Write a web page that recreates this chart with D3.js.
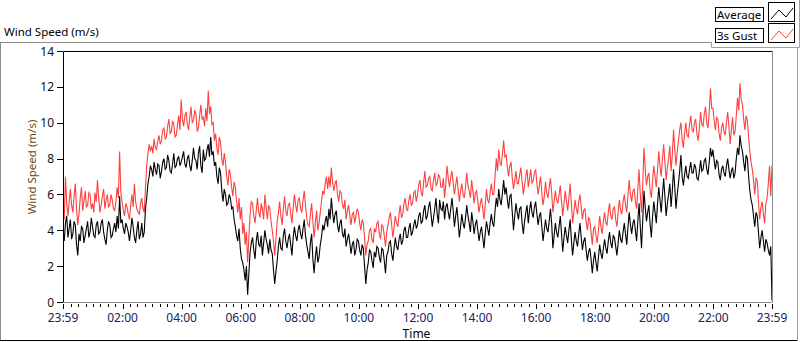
<!DOCTYPE html>
<html>
<head>
<meta charset="utf-8">
<script src="https://cdn.jsdelivr.net/npm/d3@7"></script>
<style>
  body { margin: 0; background: #fff; }
  svg { display: block; font-family: "Noto Sans", sans-serif; }
</style>
</head>
<body>
<script>
// one sample every 2.5 minutes, starting 23:59 of the previous day (24 per row = 1 hour)
var stepMinutes = 2.5

var average = [
  3.9,3.4, 4.4,4.8, 3.6,4.1, 4.6,3.5, 3.8,4.5, 4.3,3.2, 2.6,3.8, 3.4,4.2, 4.1,3.3, 3.7,4.1, 4.5,3.6, 3.9,4.7,
  4.2,3.7, 3.6,4.3, 4.5,3.8, 3.9,4.4, 4.6,3.9, 3.5,3.2, 4.0,4.5, 4.3,3.6, 3.7,4.1, 4.4,3.9, 4.8,4.1, 5.9,4.4,
  4.6,4.1, 3.8,4.4, 4.2,3.9, 3.4,4.0, 4.7,4.2, 3.6,3.3, 4.0,4.5, 3.5,3.8, 4.4,3.6, 3.9,5.2, 5.8,6.6, 7.0,7.6,
  7.4,7.0, 7.8,7.4, 7.1,7.7, 7.6,6.9, 7.3,7.8, 8.0,7.4, 7.5,8.2, 7.9,7.3, 7.2,7.7, 8.3,7.5, 7.6,8.0, 8.1,7.6,
  7.8,8.1, 8.4,7.7, 7.5,8.0, 8.2,7.6, 7.3,7.9, 8.6,8.0, 7.9,7.4, 8.3,8.7, 7.6,7.2, 8.5,7.9, 8.0,8.5, 8.8,8.1,
  9.2,8.2, 8.4,7.6, 7.8,7.0, 6.6,7.5, 7.2,6.2, 5.6,6.3, 6.0,5.4, 5.5,6.0, 5.8,5.2, 5.3,4.6, 4.2,3.7, 3.4,4.1,
  3.0,2.4, 2.2,1.8, 1.2,2.0, 0.4,1.6, 2.8,3.3, 3.6,2.9, 2.4,3.4, 3.9,3.2, 3.1,3.7, 2.6,3.3, 4.0,3.5, 3.2,2.7,
  3.5,2.9, 2.7,1.8, 1.0,1.7, 2.3,3.1, 3.6,3.0, 2.9,3.7, 4.1,3.4, 3.0,3.5, 3.8,3.2, 2.6,3.6, 4.2,3.7, 3.4,4.0,
  4.3,3.8, 3.5,4.1, 4.6,3.7, 3.2,2.8, 2.4,3.3, 3.8,2.4, 1.6,2.5, 3.1,2.2, 2.5,3.2, 3.6,4.3, 4.0,4.5, 4.8,4.2,
  5.2,4.6, 5.8,5.0, 4.4,4.9, 5.1,4.3, 3.9,4.4, 4.6,3.8, 3.6,4.1, 3.1,3.5, 3.8,3.3, 2.7,3.2, 3.4,2.6, 2.9,3.5,
  3.4,2.9, 2.6,3.2, 3.0,2.0, 1.0,1.8, 2.2,2.9, 2.8,2.3, 1.9,2.8, 2.5,3.1, 3.0,2.5, 2.2,3.0, 2.9,2.3, 1.6,2.6,
  2.8,3.3, 3.4,2.7, 2.3,3.0, 3.6,3.1, 2.9,3.5, 3.8,3.2, 3.4,4.0, 4.2,3.6, 3.6,4.1, 4.4,3.7, 3.9,4.3, 4.6,4.1,
  4.3,4.8, 5.0,4.4, 4.5,5.1, 5.4,4.6, 4.8,5.3, 5.6,4.9, 4.2,4.7, 5.2,5.8, 4.9,4.4, 5.7,5.2, 5.1,5.6, 4.6,5.3,
  5.5,5.0, 4.6,5.2, 5.8,5.1, 4.2,4.8, 5.3,4.5, 3.6,4.2, 4.9,4.4, 4.1,4.7, 5.4,4.8, 4.4,3.9, 5.0,4.5, 3.8,4.3,
  4.6,4.0, 3.4,3.9, 4.2,3.6, 3.0,3.8, 4.5,4.1, 3.7,4.4, 4.9,4.4, 4.2,5.1, 5.8,5.3, 6.3,5.7, 5.4,6.1, 6.8,6.0,
  6.4,5.7, 5.2,5.9, 6.0,5.0, 4.0,4.8, 5.5,5.0, 4.6,5.2, 5.3,4.4, 3.8,4.5, 5.0,5.4, 4.4,5.1, 5.6,5.0, 4.7,5.3,
  5.6,4.9, 4.3,4.8, 5.0,4.2, 3.4,4.0, 4.6,4.1, 3.9,4.5, 5.2,4.4, 3.0,3.7, 4.4,3.9, 3.6,4.2, 4.8,3.8, 2.8,3.6,
  4.2,3.7, 3.3,4.0, 4.6,3.5, 2.6,3.3, 3.9,3.4, 3.1,3.8, 4.4,3.6, 2.9,3.4, 3.6,2.9, 2.3,2.8, 3.0,2.4, 1.6,2.3,
  2.8,2.2, 1.7,2.5, 3.2,2.7, 2.4,3.0, 3.5,3.0, 2.7,3.4, 3.9,3.3, 3.0,3.7, 3.6,3.1, 2.6,3.3, 4.0,3.5, 3.3,3.9,
  4.4,3.8, 3.2,4.2, 5.0,4.3, 3.8,4.4, 4.6,4.0, 3.4,4.5, 5.5,4.2, 3.0,4.6, 6.2,5.3, 4.5,5.0, 5.4,4.3, 3.6,4.8,
  5.6,5.0, 4.4,5.5, 6.4,5.7, 5.0,6.0, 6.9,5.9, 4.8,5.5, 6.0,6.6, 5.3,6.2, 7.4,6.4, 5.2,6.0, 6.6,7.3, 8.2,7.0,
  6.5,7.1, 7.6,7.0, 6.9,7.4, 7.8,7.2, 7.2,7.7, 7.5,6.9, 6.8,7.3, 7.9,7.3, 7.4,7.9, 8.0,7.4, 7.1,7.8, 8.6,8.1,
  8.5,7.9, 7.4,7.9, 7.8,7.1, 6.8,7.4, 7.6,7.2, 7.0,7.6, 8.0,7.4, 6.9,7.3, 7.5,6.9, 7.2,8.0, 8.6,8.2, 9.3,8.7,
  8.4,7.8, 7.3,8.2, 8.0,7.0, 6.2,5.7, 5.4,4.8, 4.2,5.0, 4.8,3.9, 3.0,3.6, 4.0,3.4, 2.8,3.5, 3.3,2.9, 2.6,3.1,
  0.1
]

var gust = [
  5.2,4.6, 7.0,5.5, 4.8,5.6, 6.3,5.4, 5.0,5.9, 6.6,5.2, 4.3,4.9, 5.8,6.4, 5.1,5.6, 6.2,5.3, 5.4,6.1, 6.0,5.2,
  5.5,5.0, 6.1,5.6, 6.8,5.8, 5.0,5.4, 5.9,6.3, 5.2,5.7, 6.0,5.3, 5.4,6.0, 5.7,5.2, 5.1,5.6, 6.4,5.8, 8.4,6.1,
  5.6,5.1, 4.8,5.5, 5.3,4.9, 4.6,5.4, 6.0,5.3, 6.6,5.6, 5.2,5.0, 4.9,5.5, 5.8,5.2, 5.0,6.4, 7.6,8.3, 8.8,8.4,
  8.7,8.3, 9.1,8.6, 8.5,9.0, 9.3,8.8, 9.0,9.6, 9.7,9.1, 9.2,9.8, 10.2,9.4, 9.5,10.1, 9.9,9.2, 9.3,9.9, 10.4,9.6,
  11.3,10.2, 9.8,10.4, 10.6,9.9, 9.6,10.3, 10.9,10.0, 10.1,10.7, 10.5,9.5, 9.7,10.4, 11.0,10.2, 10.3,9.8, 10.8,10.1, 11.8,10.5,
  10.9,9.9, 10.0,9.0, 9.4,8.6, 8.2,9.2, 8.9,8.0, 7.6,8.3, 7.8,7.0, 6.5,7.4, 7.1,6.4, 5.9,6.7, 6.4,5.6, 5.0,5.8,
  4.6,5.3, 3.8,4.4, 3.2,3.9, 2.2,3.6, 4.9,5.6, 5.5,4.8, 4.4,5.1, 5.8,5.0, 4.7,5.5, 5.2,4.6, 6.0,5.3, 4.6,5.4,
  5.2,4.5, 4.0,3.4, 2.6,3.5, 4.5,5.0, 5.6,4.8, 4.3,5.2, 5.9,5.1, 4.8,5.4, 5.5,4.9, 4.4,5.3, 6.0,5.4, 5.0,5.7,
  5.8,5.2, 5.0,5.7, 6.2,5.4, 4.7,4.3, 4.2,4.9, 5.5,4.5, 3.6,4.4, 5.1,4.0, 4.4,5.0, 5.6,6.2, 6.0,6.6, 7.0,6.3,
  7.0,6.4, 7.5,6.7, 6.2,6.6, 6.8,6.0, 5.6,6.2, 6.1,5.4, 5.2,5.7, 4.6,5.1, 5.4,4.8, 4.3,4.9, 5.0,4.4, 4.8,5.2,
  5.0,4.4, 4.0,4.6, 4.4,3.6, 2.6,3.2, 3.4,4.0, 4.1,3.5, 3.3,4.1, 3.9,4.4, 4.5,3.8, 3.5,4.3, 4.2,3.7, 3.1,3.9,
  4.3,4.7, 5.0,4.3, 3.6,4.2, 4.8,4.4, 4.2,4.9, 5.4,4.7, 4.9,5.5, 5.8,5.2, 5.1,5.7, 6.0,5.4, 5.5,6.1, 6.2,5.6,
  6.0,6.5, 6.8,6.1, 5.9,6.7, 7.3,6.4, 6.5,6.9, 7.0,6.3, 6.2,6.8, 7.2,6.5, 6.6,7.1, 7.0,6.4, 6.4,6.9, 5.8,6.6,
  7.6,6.9, 6.4,7.0, 7.3,6.6, 6.0,6.5, 7.0,6.3, 5.6,6.2, 6.6,6.0, 5.8,6.4, 7.2,6.5, 6.2,5.8, 6.8,6.2, 5.5,6.1,
  6.2,5.6, 5.0,5.5, 5.8,5.2, 4.6,5.4, 6.3,5.7, 5.5,6.1, 6.6,6.0, 6.0,7.0, 8.0,7.3, 8.5,7.8, 7.6,8.3, 9.0,8.1,
  8.2,7.5, 7.0,7.6, 7.8,6.9, 6.3,6.8, 7.3,6.6, 6.6,7.1, 7.5,6.7, 6.0,6.5, 7.0,7.4, 6.4,6.9, 7.4,6.6, 6.8,7.2,
  7.4,6.6, 6.0,6.5, 7.0,6.1, 5.4,5.9, 6.7,6.1, 5.8,6.4, 6.9,6.1, 5.0,5.6, 6.2,5.7, 5.5,6.0, 6.5,5.6, 4.8,5.5,
  6.2,5.6, 5.1,5.8, 6.6,5.5, 4.4,5.0, 5.7,5.2, 4.9,5.6, 6.0,5.3, 4.6,5.1, 5.2,4.5, 4.0,4.7, 4.6,3.9, 3.2,4.1,
  4.2,3.7, 3.3,4.0, 4.8,4.2, 3.8,4.5, 5.0,4.4, 4.3,5.0, 5.5,4.8, 4.6,5.2, 5.3,4.6, 4.2,5.0, 5.7,5.1, 4.9,5.6,
  6.0,5.4, 5.0,6.0, 6.8,6.0, 5.6,6.2, 6.3,5.6, 5.2,6.3, 7.4,6.0, 5.0,6.6, 8.6,7.4, 6.5,7.0, 7.2,6.2, 5.8,6.8,
  7.6,7.0, 6.4,7.4, 8.4,7.6, 7.0,8.0, 8.8,7.8, 6.8,7.5, 8.0,8.7, 7.3,8.2, 9.6,8.5, 7.6,8.4, 9.0,9.6, 10.0,9.1,
  8.6,9.4, 10.0,9.3, 9.2,9.9, 10.4,9.6, 9.5,10.0, 10.2,9.4, 9.0,9.7, 10.6,9.9, 9.8,10.5, 10.9,10.0, 9.7,10.6, 11.9,10.8,
  10.8,10.1, 9.6,10.3, 10.2,9.4, 9.0,9.7, 10.0,9.5, 9.3,10.0, 10.6,9.8, 8.8,9.6, 10.3,9.3, 9.5,10.4, 11.4,10.7, 12.2,11.3,
  11.0,10.2, 9.6,10.4, 10.1,9.2, 8.4,7.8, 7.4,6.8, 6.0,6.9, 6.8,5.6, 4.6,5.3, 5.6,4.9, 4.4,5.5, 5.8,6.6, 7.6,5.9,
  7.6
]

var yTicks = [0, 2, 4, 6, 8, 10, 12, 14]
var xTickHours = [2, 4, 6, 8, 10, 12, 14, 16, 18, 20, 22]
var seriesNames = ["Average", "3s Gust"]
var seriesColors = ["#000000", "#ff4040"]

var w = 800
var h = 342
var plotLeft = 63, plotRight = 772, plotTop = 51, plotBottom = 302

var t0 = new Date(2000, 0, 1, 23, 59)
var t1 = new Date(2000, 0, 2, 23, 59)

var x = d3.scaleTime().domain([t0, t1]).range([plotLeft, plotRight])
var y = d3.scaleLinear().domain([0, 14]).range([plotBottom, plotTop])

var svg = d3.select("body").append("svg")
  .attr("width", w)
  .attr("height", h)

// outer panel
svg.append("line").attr("x1", 0).attr("y1", 42.5).attr("x2", 711).attr("y2", 42.5).attr("stroke", "#8c8c8c")
svg.append("line").attr("x1", 0.5).attr("y1", 42).attr("x2", 0.5).attr("y2", 341).attr("stroke", "#8c8c8c")
svg.append("line").attr("x1", 0).attr("y1", 340.5).attr("x2", 798).attr("y2", 340.5).attr("stroke", "#000")
svg.append("line").attr("x1", 797.5).attr("y1", 47).attr("x2", 797.5).attr("y2", 341).attr("stroke", "#a0a0a0")

svg.append("text")
  .attr("x", 4).attr("y", 36)
  .attr("font-size", 11.5)
  .attr("fill", "#000")
  .text("Wind Speed (m/s)")

// legend
var lg = svg.append("g")
lg.append("path")
  .attr("d", "M711.5,42 V47.5 H799.5 V0")
  .attr("fill", "none").attr("stroke", "#a0a0a0")
seriesNames.forEach(function (name, i) {
  var ty = 7 + i * 21
  lg.append("rect")
    .attr("x", 715.5).attr("y", ty + 0.5).attr("width", 48).attr("height", 14)
    .attr("fill", "#fff").attr("stroke", "#000")
  lg.append("text")
    .attr("x", 717).attr("y", ty + 11.5)
    .attr("font-size", 11.5)
    .text(name)
  lg.append("rect")
    .attr("x", 768.5).attr("y", ty - 4.5).attr("width", 26).attr("height", 19)
    .attr("fill", "#fff").attr("stroke", "#000")
  lg.append("polyline")
    .attr("points", [[771, ty + 12], [779, ty + 3], [786, ty + 10], [793, ty + 1]].join(" "))
    .attr("fill", "none")
    .attr("stroke", seriesColors[i])
})

// plot frame
svg.append("rect")
  .attr("x", plotLeft).attr("y", plotTop).attr("width", plotRight - plotLeft).attr("height", plotBottom - plotTop)
  .attr("fill", "#fff")

var clip = svg.append("clipPath").attr("id", "plotclip")
clip.append("rect").attr("x", plotLeft).attr("y", plotTop).attr("width", plotRight - plotLeft + 1).attr("height", plotBottom - plotTop + 1)

function timeAt(i) {
  return new Date(t0.getTime() + i * stepMinutes * 60000)
}

var line = d3.line()
  .x(function (d, i) { return x(timeAt(i)) })
  .y(function (d) { return y(d) })

var plot = svg.append("g").attr("clip-path", "url(#plotclip)")
plot.append("path")
  .datum(gust)
  .attr("d", line)
  .attr("fill", "none")
  .attr("stroke", seriesColors[1])
  .attr("stroke-width", 1.1)
plot.append("path")
  .datum(average)
  .attr("d", line)
  .attr("fill", "none")
  .attr("stroke", seriesColors[0])
  .attr("stroke-width", 1.1)

svg.append("path")
  .attr("d", "M" + (plotLeft + 0.5) + "," + (plotBottom + 0.5) + " V" + (plotTop + 0.5) + " H" + (plotRight + 0.5))
  .attr("fill", "none").attr("stroke", "#000")
svg.append("path")
  .attr("d", "M" + (plotRight + 0.5) + "," + (plotTop + 0.5) + " V" + (plotBottom + 0.5) + " H" + (plotLeft + 0.5))
  .attr("fill", "none").attr("stroke", "#8c8c8c")

// y axis
var yAxis = svg.append("g")
yAxis.selectAll("line.ytick")
  .data(yTicks)
  .enter()
  .append("line")
  .attr("x1", plotLeft - 6).attr("x2", plotLeft)
  .attr("y1", function (d) { return Math.round(y(d)) + 0.5 })
  .attr("y2", function (d) { return Math.round(y(d)) + 0.5 })
  .attr("stroke", "#000")
yAxis.selectAll("text")
  .data(yTicks)
  .enter()
  .append("text")
  .attr("x", plotLeft - 9)
  .attr("y", function (d) { return y(d) + 4.5 })
  .attr("text-anchor", "end")
  .attr("font-size", 12)
  .attr("fill", "#101010")
  .text(function (d) { return d })

svg.append("text")
  .attr("transform", "translate(36,167) rotate(-90)")
  .attr("text-anchor", "middle")
  .attr("font-size", 11.5)
  .attr("fill", "#6b4a12")
  .text("Wind Speed (m/s)")

// x axis
var minor = d3.timeMinute.every(15).range(t0, t1)
minor.push(t1)
svg.selectAll("line.minor")
  .data(minor)
  .enter()
  .append("line")
  .attr("x1", function (d) { return Math.round(x(d)) + 0.5 })
  .attr("x2", function (d) { return Math.round(x(d)) + 0.5 })
  .attr("y1", plotBottom + 2).attr("y2", plotBottom + 5)
  .attr("stroke", "#000")

var majors = [t0].concat(xTickHours.map(function (hr) { return new Date(2000, 0, 2, hr, 0) }), [t1])
svg.selectAll("line.major")
  .data(majors)
  .enter()
  .append("line")
  .attr("x1", function (d) { return Math.round(x(d)) + 0.5 })
  .attr("x2", function (d) { return Math.round(x(d)) + 0.5 })
  .attr("y1", plotBottom + 2).attr("y2", plotBottom + 7)
  .attr("stroke", "#000")

var fmt = d3.timeFormat("%H:%M")
svg.selectAll("text.xlab")
  .data(majors)
  .enter()
  .append("text")
  .attr("x", function (d) { return x(d) })
  .attr("y", 322)
  .attr("text-anchor", "middle")
  .attr("font-size", 12)
  .attr("fill", "#1a2060")
  .text(fmt)

svg.append("text")
  .attr("x", (plotLeft + plotRight) / 2 - 1).attr("y", 338)
  .attr("text-anchor", "middle")
  .attr("font-size", 12)
  .attr("fill", "#000")
  .text("Time")
</script>
</body>
</html>
